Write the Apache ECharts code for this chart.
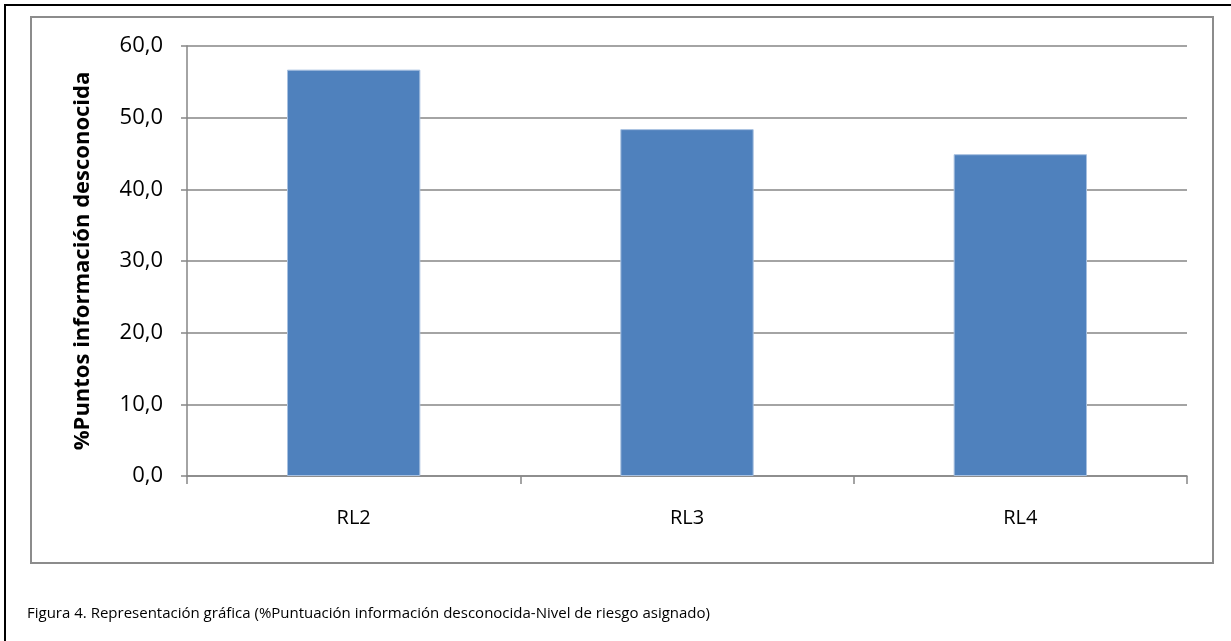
<!DOCTYPE html>
<html>
<head>
<meta charset="utf-8">
<script src="https://cdn.jsdelivr.net/npm/echarts@6/dist/echarts.min.js"></script>
<style>
    html, body { margin: 0; padding: 0; background: #fff; }
    .page { position: relative; width: 1231px; height: 641px; overflow: hidden; }
    .outer { position: absolute; left: 4px; top: 4px; width: 1240px; height: 660px; border: 2px solid #000; box-sizing: border-box; }
    .frame { position: absolute; left: 30px; top: 16px; width: 1184px; height: 548px; border: 2px solid #8c8c8c; box-sizing: border-box; }
    .echart { position: absolute; left: 0; top: 0; width: 1231px; height: 641px; }
    .caption { position: absolute; left: 27px; top: 602px; font-family: "Open Sans", sans-serif; font-size: 15px; color: #000; white-space: nowrap; }
</style>
</head>
<body>
<div class="page">
    <div class="outer"></div>
    <div class="frame"></div>
    <div id="chart" class="echart"></div>
    <div class="caption">Figura 4. Representación gráfica (%Puntuación información desconocida-Nivel de riesgo asignado)</div>
</div>
<script>
// categorias y valores
const categories = ['RL2', 'RL3', 'RL4']
const values = [56.7, 48.4, 44.9]
const yTicks = [0, 10, 20, 30, 40, 50, 60]

const axisColor = '#868686'
const labelFont = '"Open Sans", sans-serif'

const chartOption = {
    animation: false,
    grid: {
        left: 187,
        right: 44,
        top: 46,
        bottom: 165
    },
    xAxis: {
        type: 'category',
        data: categories,
        boundaryGap: true,
        axisLine: { lineStyle: { color: axisColor, width: 1.5 } },
        axisTick: { show: true, alignWithLabel: false, length: 8, lineStyle: { color: axisColor, width: 1.5 } },
        axisLabel: { color: '#000', fontFamily: labelFont, fontSize: 20, margin: 32 }
    },
    yAxis: {
        type: 'value',
        min: yTicks[0],
        max: yTicks[yTicks.length - 1],
        interval: 10,
        name: '%Puntos información desconocida',
        nameLocation: 'middle',
        nameGap: 93,
        nameTextStyle: { color: '#000', fontFamily: labelFont, fontSize: 22, fontWeight: 'bold' },
        axisLine: { show: true, lineStyle: { color: axisColor, width: 1.5 } },
        axisTick: { show: true, length: 6, lineStyle: { color: axisColor, width: 1.5 } },
        splitLine: { show: true, lineStyle: { color: axisColor, width: 1.5 } },
        axisLabel: {
            color: '#000',
            fontFamily: labelFont,
            fontSize: 22,
            margin: 24,
            formatter: (v) => v.toFixed(1).replace('.', ',')
        }
    },
    series: [{
        type: 'bar',
        data: values,
        barWidth: '40%',
        itemStyle: {
            color: '#4f81bd',
            borderColor: '#a7c0e0',
            borderWidth: 1
        }
    }]
}

const chartInstance = echarts.init(document.getElementById('chart'), null, { renderer: 'canvas' })
chartInstance.setOption(chartOption)
</script>
</body>
</html>
